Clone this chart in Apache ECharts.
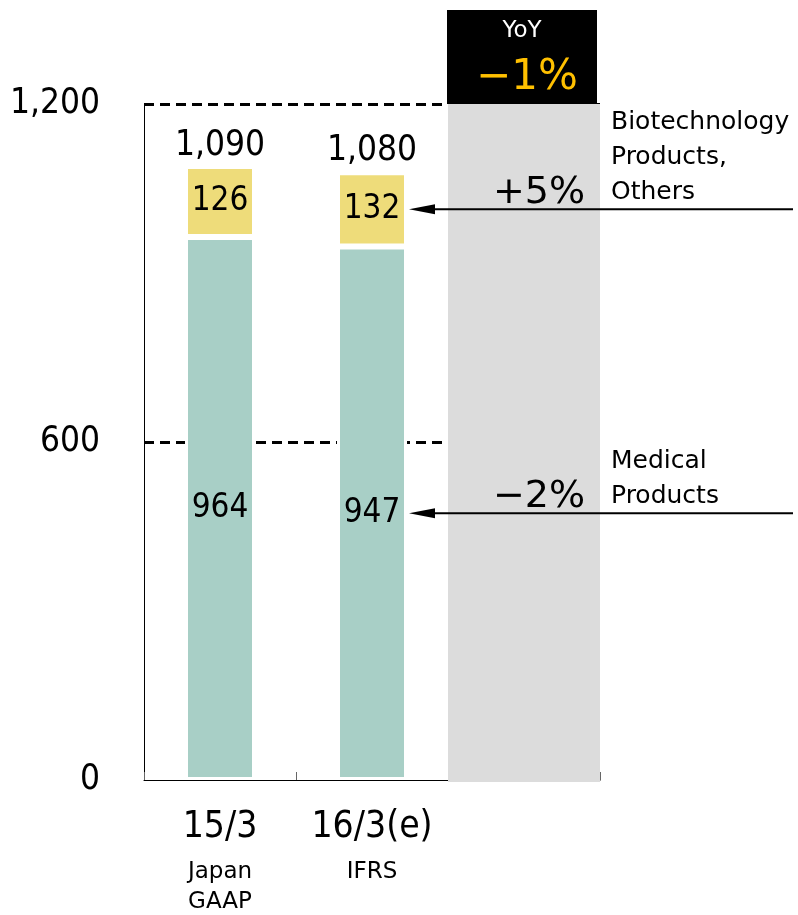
<!DOCTYPE html>
<html>
<head>
<meta charset="utf-8">
<script src="https://cdn.jsdelivr.net/npm/echarts@6/dist/echarts.min.js"></script>
<style>
  html, body { margin: 0; padding: 0; background: #fff; }
  #chart { width: 798px; height: 915px; }
</style>
</head>
<body>
<div id="chart"></div>
<script>
// Sales by segment (100 million yen)
const categories = ['15/3', '16/3(e)', 'YoY'];
const standards = ['Japan\nGAAP', 'IFRS', ''];
const medical = [964, 947, null];
const biotech = [126, 132, null];
const totals = [1090, 1080, null];
const yoyTotal = '\u22121%';
const yoyBiotech = '+5%';
const yoyMedical = '\u22122%';
const segmentNames = ['Medical\nProducts', 'Biotechnology\nProducts,\nOthers'];
const yTicks = [0, 600, 1200];

const NUM_FONT = '"Liberation Sans Narrow", "DejaVu Sans Condensed", "Liberation Sans", sans-serif';
const TXT_FONT = '"DejaVu Sans", "Liberation Sans", sans-serif';
const GREEN = '#A8CFC6';
const YELLOW = '#EEDC7A';
const GRAY = '#DCDCDC';
const BAR_W = 70;

const yMax = yTicks[yTicks.length - 1];
const fmt = v => Number(v).toLocaleString('en-US');

// arrows pointing at the forecast year's segments
const arrows = [
  { cat: 1, start: 0, value: medical[1], pct: yoyMedical, name: segmentNames[0] },
  { cat: 1, start: medical[1], value: biotech[1], pct: yoyBiotech, name: segmentNames[1] }
];

const chart = echarts.init(document.getElementById('chart'), null, { renderer: 'canvas' });

chart.setOption({
  animation: false,
  backgroundColor: '#fff',
  grid: { left: 144, right: 198, top: 104, bottom: 135, containLabel: false, outerBoundsMode: 'none' },
  xAxis: {
    type: 'category',
    data: categories,
    axisLine: { show: true, lineStyle: { color: '#000', width: 1 } },
    axisTick: { show: true, inside: true, length: 8, lineStyle: { color: '#666' } },
    axisLabel: {
      margin: 17,
      interval: 0,
      formatter: (v, i) => i >= 2 ? '' :
        '{a|' + v + '}\n' + standards[i].split('\n').map(s => '{b|' + s + '}').join('\n'),
      rich: {
        a: { fontFamily: NUM_FONT, fontSize: 37, lineHeight: 60, color: '#000' },
        b: { fontFamily: TXT_FONT, fontSize: 23, lineHeight: 30, color: '#000' }
      }
    }
  },
  yAxis: {
    type: 'value',
    min: yTicks[0],
    max: yMax,
    interval: yTicks[1] - yTicks[0],
    axisLine: { show: true, lineStyle: { color: '#000', width: 1 } },
    axisTick: { show: false },
    splitLine: { show: false },
    axisLabel: {
      margin: 44,
      formatter: v => fmt(v),
      fontFamily: NUM_FONT, fontSize: 35, color: '#000'
    }
  },
  series: [
    {
      // dashed guide lines at 600 and 1,200
      type: 'line',
      data: [],
      z: 1,
      silent: true,
      markLine: {
        z: 1,
        silent: true,
        symbol: ['none', 'none'],
        label: { show: false },
        lineStyle: { type: [10, 6], width: 3, color: '#000' },
        data: yTicks.slice(1).map(v => ({ yAxis: v }))
      }
    },
    {
      name: 'Medical Products',
      type: 'bar',
      stack: 'sales',
      barWidth: BAR_W,
      data: medical,
      z: 3,
      itemStyle: { color: GREEN, borderColor: '#fff', borderWidth: 3 },
      label: {
        show: true, position: 'inside',
        fontFamily: NUM_FONT, fontSize: 33, color: '#000'
      }
    },
    {
      name: 'Biotechnology Products, Others',
      type: 'bar',
      stack: 'sales',
      barWidth: BAR_W,
      data: biotech,
      z: 3,
      itemStyle: { color: YELLOW, borderColor: '#fff', borderWidth: 3 },
      label: {
        show: true, position: 'inside',
        fontFamily: NUM_FONT, fontSize: 33, color: '#000'
      }
    },
    {
      // totals above the stacks
      type: 'scatter',
      data: totals,
      symbolSize: 0,
      z: 3,
      silent: true,
      itemStyle: { opacity: 1, color: 'transparent' },
      label: {
        show: true, position: 'top', distance: 3,
        formatter: p => fmt(p.value),
        fontFamily: NUM_FONT, fontSize: 35, color: '#000', opacity: 1
      }
    },
    {
      // YoY column with its header box
      type: 'custom',
      z: 4,
      clip: false,
      silent: true,
      data: [[2, yMax]],
      renderItem: (params, api) => {
        const top = api.coord([api.value(0), api.value(1)]);
        const base = api.coord([api.value(0), 0]);
        const w = api.size([1, 0])[0];
        const x = top[0] - w / 2;
        const boxH = 94;
        return {
          type: 'group',
          children: [
            { type: 'rect', shape: { x: x, y: top[1], width: w, height: base[1] - top[1] + 2 }, style: { fill: GRAY } },
            { type: 'rect', shape: { x: x - 1, y: top[1] - boxH, width: w - 2, height: boxH }, style: { fill: '#000' } },
            { type: 'text', style: { text: categories[2], x: top[0] - 2, y: top[1] - boxH + 21, align: 'center', verticalAlign: 'middle', fill: '#fff', font: '23px ' + TXT_FONT } },
            { type: 'text', style: { text: yoyTotal, x: top[0] + 3, y: top[1] - boxH + 68, align: 'center', verticalAlign: 'middle', fill: '#FFC000', font: '42px ' + TXT_FONT } }
          ]
        };
      }
    },
    {
      // arrows, YoY rates and segment names
      type: 'custom',
      z: 5,
      clip: false,
      silent: true,
      data: arrows.map(a => [a.cat, a.start + a.value / 2]),
      renderItem: (params, api) => {
        const a = arrows[params.dataIndex];
        const p = api.coord([api.value(0), api.value(1)]);
        const cs = params.coordSys;
        const colRight = cs.x + cs.width;
        const tipX = p[0] + BAR_W / 2 + 2;
        const endX = api.getWidth() - 5;
        const y = p[1];
        return {
          type: 'group',
          children: [
            { type: 'line', shape: { x1: tipX + 20, y1: y, x2: endX, y2: y }, style: { stroke: '#000', lineWidth: 2 } },
            { type: 'polygon', shape: { points: [[tipX, y], [tipX + 26, y - 5], [tipX + 26, y + 5]] }, style: { fill: '#000' } },
            { type: 'text', style: { text: a.pct, x: colRight - 15, y: y - 16, align: 'right', verticalAlign: 'middle', fill: '#000', font: '38px ' + TXT_FONT } },
            { type: 'text', style: { text: a.name, x: colRight + 11, y: y + 1, align: 'left', verticalAlign: 'bottom', fill: '#000', font: '25px ' + TXT_FONT, lineHeight: 35 } }
          ]
        };
      }
    }
  ]
});
</script>
</body>
</html>
